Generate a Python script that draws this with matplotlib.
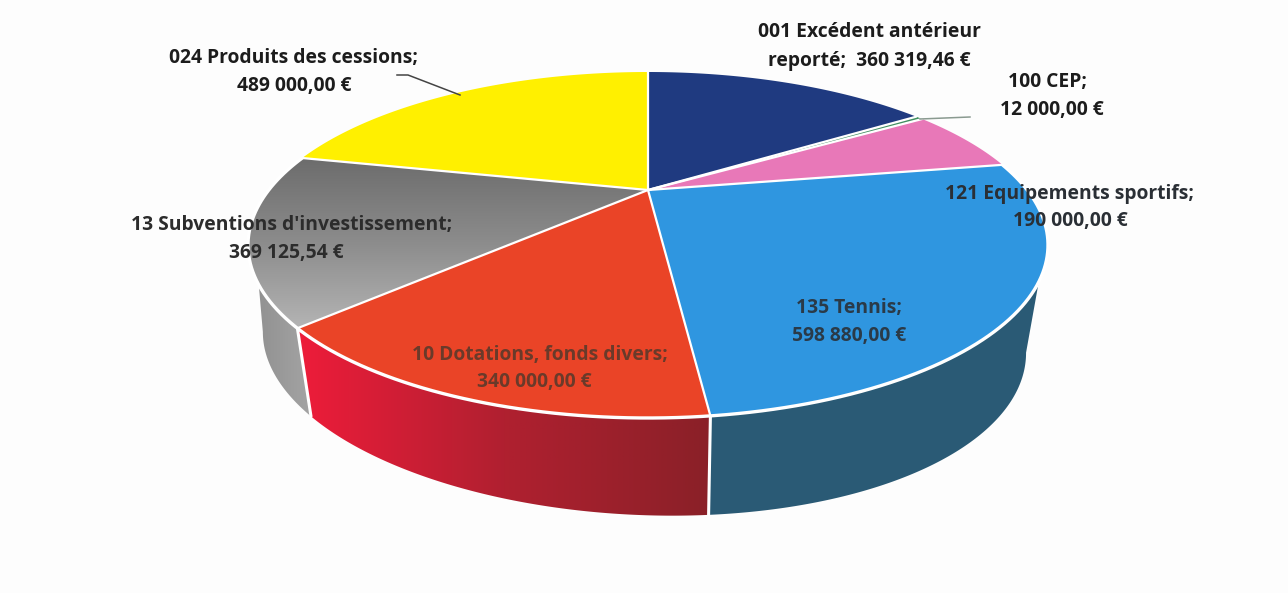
import numpy as np
import matplotlib
matplotlib.use("Agg")
import matplotlib.pyplot as plt
from matplotlib.patches import Polygon
from matplotlib.colors import LinearSegmentedColormap

# ---- data
codes = ["001 Excédent antérieur", "100 CEP", "121 Equipements sportifs", "135 Tennis",
         "10 Dotations, fonds divers", "13 Subventions d'investissement", "024 Produits des cessions"]
values = [360319.46, 12000.00, 190000.00, 598880.00, 340000.00, 369125.54, 489000.00]
amounts = ["360 319,46 €", "12 000,00 €", "190 000,00 €", "598 880,00 €",
           "340 000,00 €", "369 125,54 €", "489 000,00 €"]

# ---- styles
top_colors = ["#1f3a80", "#3f8f5f", "#e878b8", "#2f96e0", "#ea4427", None, "#fff000"]
W, H = 1288, 593
fig = plt.figure(figsize=(W / 100, H / 100), dpi=100, facecolor="#fdfdfd")
ax = fig.add_axes([0, 0, 1, 1])
ax.set_xlim(0, W)
ax.set_ylim(H, 0)
ax.axis("off")

# ---- perspective camera: unit disc -> picture
cx, cy = 648.0, 190.0
up_len, down_len, half_w = 118.0, 228.0, 400.0
persp = (down_len - up_len) / (down_len + up_len)
a_y = up_len * (1 + persp)
a_x = half_w * np.sqrt(1 - persp ** 2)


def project(x, y):
    return cx + a_x * x / (1 + persp * y), cy - a_y * y / (1 + persp * y)


def unproject_angle(u, v):
    w = cy - v
    y = w / (a_y - persp * w)
    x = (u - cx) * (1 + persp * y) / a_x
    return np.arctan2(x, y) % (2 * np.pi)


# the scan is slightly skewed: angular warp from data angle to seen angle on the rim
data_edges = np.concatenate([[0], np.cumsum(values)]) / np.sum(values) * 2 * np.pi
rim_idx = [1, 3, 4, 5, 6]
rim_px = [(915, 117), (1000, 165), (711, 418), (293, 330), (302, 158)]
warp_x = np.concatenate([[0], data_edges[rim_idx], [2 * np.pi]])
warp_y = np.concatenate([[0], [unproject_angle(*p) for p in rim_px], [2 * np.pi]])
edges = np.interp(data_edges, warp_x, warp_y)


def rim(t0, t1, n=160):
    t = np.linspace(t0, t1, n)
    return np.column_stack(project(np.sin(t), np.cos(t)))


def lower(pts):
    x = 0.951 * pts[:, 0] + 27 + 6 * np.clip(1 - ((pts[:, 0] - 700) / 450) ** 2, 0, 1)
    y = pts[:, 1] + 88 + (pts[:, 0] - 293) * 11 / 418
    return np.column_stack([x, y])


def gradient_fill(poly, colors, horizontal, z):
    xy = poly.get_xy()
    x0, x1, y0, y1 = xy[:, 0].min(), xy[:, 0].max(), xy[:, 1].min(), xy[:, 1].max()
    g = np.linspace(0, 1, 256)
    g = g[None, :] if horizontal else g[:, None]
    cmap = LinearSegmentedColormap.from_list("g", colors)
    im = ax.imshow(g, extent=(x0, x1, y1, y0), origin="upper", cmap=cmap, aspect="auto", zorder=z)
    ax.add_patch(poly)
    im.set_clip_path(poly)
    ax.set_xlim(0, W)
    ax.set_ylim(H, 0)


def outline(pts, z, lw=2.2):
    ax.plot(pts[:, 0], pts[:, 1], color="white", lw=lw, zorder=z, solid_capstyle="round")


# ---- side walls (only slices at the front are visible)
def wall(t_up0, t_up1, t_low0, t_low1):
    return np.vstack([rim(t_up0, t_up1), lower(rim(t_low1, t_low0))])


def extreme_angle(t0, t1, sign):
    t = np.linspace(t0, t1, 720)
    pts = lower(np.column_stack(project(np.sin(t), np.cos(t))))
    return t[np.argmax(sign * pts[:, 0])]


tip_right = unproject_angle(1043, 283)
tip_left = unproject_angle(250, 287)
ext_right = extreme_angle(edges[3], edges[4], 1)
ext_left = extreme_angle(edges[5], edges[6], -1)

ax.add_patch(Polygon(wall(tip_right, edges[4], ext_right, edges[4]), closed=True,
                     fc="#2a5a75", ec="none", zorder=2))
gradient_fill(Polygon(wall(edges[4], edges[5], edges[4], edges[5]), closed=True, fc="none", ec="none", zorder=2),
              ["#ee1c3a", "#b02030", "#8a2028"], True, 2)
gradient_fill(Polygon(wall(edges[5], tip_left, edges[5], ext_left), closed=True, fc="none", ec="none", zorder=1),
              ["#929292", "#a4a4a4"], True, 1)
for i in (3, 4):
    up = rim(edges[i + 1], edges[i + 1], 2)
    outline(np.vstack([up[0], lower(up)[0]]), 3)

# ---- top face
c = np.column_stack(project(np.zeros(1), np.zeros(1)))
for i, col in enumerate(top_colors):
    pts = np.vstack([c, rim(edges[i], edges[i + 1])])
    if col is None:
        gradient_fill(Polygon(pts, closed=True, fc="none", ec="none", zorder=4),
                      ["#6c6c6c", "#8c8c8c", "#b4b4b4"], False, 4)
    else:
        ax.add_patch(Polygon(pts, closed=True, fc=col, ec="none", zorder=4))
for i in range(len(values)):
    p = rim(edges[i], edges[i], 2)
    outline(np.vstack([c, p[0]]), 5, lw=1.6)
outline(rim(edges[3], edges[6]), 5, lw=2.4)

# ---- leader lines
ax.plot([397, 408, 460], [75, 75, 95], color="#444444", lw=1.1, zorder=6)
ax.plot([920, 970], [119, 117], color="#8a9a90", lw=1.1, zorder=6)

# ---- labels
first = [codes[0]] + [s + ";" for s in codes[1:]]
second = ["reporté;  " + amounts[0]] + amounts[1:]
line1_pos = [(869, 32), (1048, 82), (1070, 194), (849, 308), (540, 355), (292, 225), (294, 58)]
line2_pos = [(869, 61), (1052, 110), (1070, 221), (849, 336), (534, 382), (286, 253), (294, 86)]
text_cols = ["#1c1c1c", "#1c1c1c", "#2a2f35", "#2a3a48", "#6a3a2a", "#2c2c2c", "#1c1c1c"]
for a, b_, p1, p2, col in zip(first, second, line1_pos, line2_pos, text_cols):
    for s, p in ((a, p1), (b_, p2)):
        ax.text(p[0], p[1], s, ha="center", va="center", fontsize=13.9, fontweight="bold",
                family="Open Sans", color=col, zorder=7)

fig.savefig("out.png", dpi=100, facecolor=fig.get_facecolor())
